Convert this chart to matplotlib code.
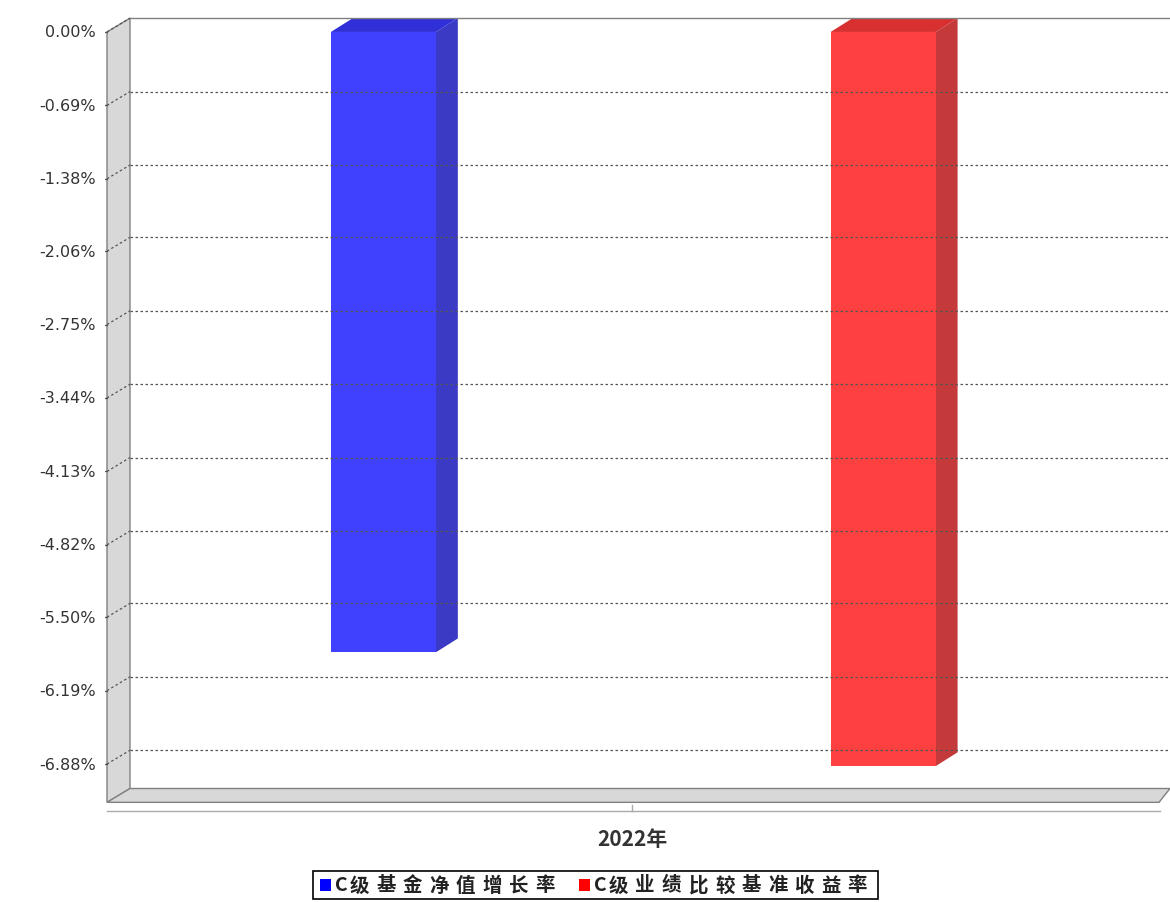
import matplotlib.pyplot as plt
from matplotlib.patches import Polygon, Rectangle
from matplotlib.transforms import blended_transform_factory

plt.rcParams['font.family'] = ['Noto Sans CJK SC', 'DejaVu Sans']

categories = ['2022年']
series_names = ['C级基金净值增长率', 'C级业绩比较基准收益率']
values = [-5.83, -6.90]
ticks = [0.00, -0.69, -1.38, -2.06, -2.75, -3.44, -4.13, -4.82, -5.50, -6.19, -6.88]
front_colors = ['#4040ff', '#ff4040']
side_colors = ['#3a3ac4', '#c43a3a']
top_colors = ['#3030d8', '#d83030']
legend_colors = ['#0000ff', '#ff0000']

W, H = 1170, 903
fig = plt.figure(figsize=(W / 100, H / 100), dpi=100)
# axes covers pixel x 105..1170, y 17..806
ax = fig.add_axes([105 / W, 1 - 806 / H, (1170 - 105) / W, (806 - 17) / H])
ax.set_xlim(-0.557, 1.574)
ax.set_ylim(-(806 - 33) / 106.4, 0.15)
ax.axis('off')

dx, dy = 0.044, 0.13          # depth offset in data units
x_wall = -0.507               # back plane left edge
x_front = -0.553
bw = 0.21
ybot = -7.24

# left wall
ax.add_patch(Polygon([(x_front, ybot), (x_front, 0.0), (x_wall, dy), (x_wall, ybot + dy)],
                     closed=True, fc='#d8d8d8', ec='#808080', lw=1))
# floor
ax.add_patch(Polygon([(x_front, ybot), (x_wall, ybot + dy), (1.574, ybot + dy), (1.574 - dx * 0.5, ybot)],
                     closed=True, fc='#d8d8d8', ec='#808080', lw=1))
ax.plot([x_wall, 1.574], [dy, dy], color='#808080', lw=1)

tr = blended_transform_factory(fig.transFigure, ax.transData)
for t in ticks:
    if t != 0:
        ax.plot([x_wall, 1.574], [t + dy, t + dy], color='#555555', lw=0.9, ls=(0, (2, 2)))
    ax.plot([x_front, x_wall], [t, t + dy], color='#555555', lw=0.9, ls=(0, (2, 2)))
    ax.plot([x_front - 0.008, x_front], [t, t], color='#555555', lw=0.9)
    ax.text(96 / W, t, f'{t:.2f}%', transform=tr, ha='right', va='center',
            fontsize=11.5, color='#333333', family=['Verdana', 'DejaVu Sans'])

for i, (v, fc, sc, tc) in enumerate(zip(values, front_colors, side_colors, top_colors)):
    x0 = i - bw / 2
    ax.add_patch(Polygon([(x0 + bw, 0), (x0 + bw + dx, dy), (x0 + bw + dx, v + dy), (x0 + bw, v)],
                         closed=True, fc=sc, ec='none'))
    ax.add_patch(Polygon([(x0, 0), (x0 + dx, dy), (x0 + bw + dx, dy), (x0 + bw, 0)],
                         closed=True, fc=tc, ec='none'))
    ax.add_patch(Rectangle((x0, v), bw, -v, fc=fc, ec='none'))

# bottom category axis
fig.add_artist(plt.Line2D([107 / W, 1160 / W], [1 - 812 / H] * 2, color='#aaaaaa', lw=1))
fig.add_artist(plt.Line2D([632 / W] * 2, [1 - 812 / H, 1 - 806 / H], color='#aaaaaa', lw=1))
fig.text(632 / W, 1 - 840 / H, categories[0], ha='center', va='center', fontsize=15,
         color='#333333', fontweight='bold')

# legend (characters spaced like the original bitmap font)
lx0, lx1, ly0, ly1 = 313, 878, 872, 900
fig.add_artist(Rectangle((lx0 / W, 1 - ly1 / H), (lx1 - lx0) / W, (ly1 - ly0) / H,
                         fc='white', ec='black', lw=1.2))
xs = [320, 579]
for xi, name, c in zip(xs, series_names, legend_colors):
    fig.add_artist(Rectangle((xi / W, 1 - 892 / H), 11 / W, 12 / H, fc=c, ec='none'))
    cx = xi + 15
    for ch in name:
        fig.text(cx / W, 1 - 886 / H, ch, ha='left', va='center', fontsize=14,
                 color='#222222', fontweight='bold')
        cx += 15 if ch.isascii() else 26.5

fig.savefig('out.png', dpi=100)
